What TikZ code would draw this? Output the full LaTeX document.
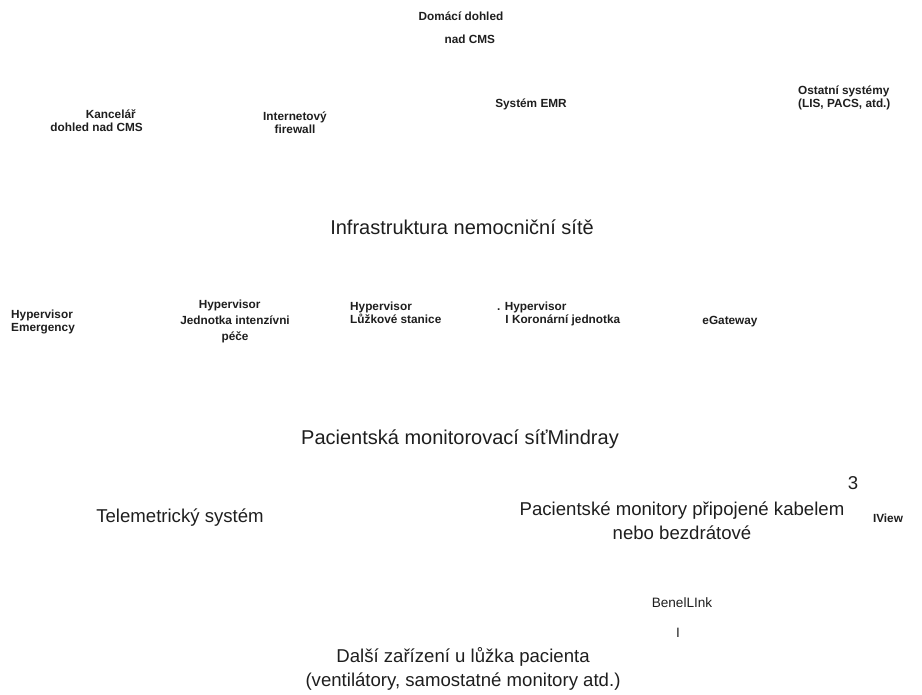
\documentclass[tikz,border=0pt]{standalone}
\usepackage{fontspec}
\setmainfont{Liberation Sans}
\usepackage{xcolor}
\definecolor{ink}{RGB}{30,30,30}
\tikzset{
  small/.style={ink, font=\bfseries\fontsize{11.8}{13}\selectfont, inner sep=0pt},
  large/.style={ink, font=\fontsize{20}{24}\selectfont, inner sep=0pt},
  body/.style={ink, font=\fontsize{18.6}{24}\selectfont, inner sep=0pt},
  mid/.style={ink, font=\fontsize{13.6}{15}\selectfont, inner sep=0pt}
}

\begin{document}
\begin{tikzpicture}[x=1pt, y=-1pt]
  \useasboundingbox (0,0) rectangle (922,695);
  % top row
  \node[small, align=center] (home) at (461,28) {Domácí dohled\\[10pt]\hspace*{1.5em}nad CMS};
  \node[small, align=right, anchor=east] (office) at (143,121) {Kancelář\hspace*{0.6em}\\dohled nad CMS};
  \node[small, align=center] (fw) at (295,123) {Internetový\\firewall};
  \node[small] (emr) at (531,104) {Systém EMR};
  \node[small, align=left, anchor=west] (other) at (798,98) {Ostatní systémy\\(LIS, PACS, atd.)};
  % hospital network
  \node[large] (infra) at (462,227) {Infrastruktura nemocniční sítě};
  % hypervisors
  \node[small, align=left, anchor=west] (hemg) at (11,322) {Hypervisor\\Emergency};
  \node[small, align=center] (hicu) at (235,321) {\hspace*{-0.9em}Hypervisor\\[3pt]Jednotka intenzívni\\[3pt]péče};
  \node[small, align=left, anchor=west] (hbed) at (350,313) {Hypervisor\\Lůžkové stanice};
  \node[small, align=left, anchor=west] (hccu) at (497,314) {. Hypervisor\\\hspace*{0.7em}I Koronární jednotka};
  \node[small] (egw) at (730,322) {eGateway};
  % monitoring network
  \node[large] (pmn) at (460,439) {Pacientská monitorovací síťMindray};
  \node[body] (three) at (853,483) {3};
  \node[body] (tele) at (180,518) {Telemetrický systém};
  \node[body, align=center] (mon) at (682,521) {Pacientské monitory připojené kabelem\\nebo bezdrátové};
  \node[small] (iview) at (888,518) {IView};
  % bedside devices
  \node[mid] (blink) at (682,603) {BenelLInk};
  \node[mid] (bar) at (678,633) {I};
  \node[body, align=center] (other dev) at (463,669) {Další zařízení u lůžka pacienta\\(ventilátory, samostatné monitory atd.)};
\end{tikzpicture}
\end{document}
